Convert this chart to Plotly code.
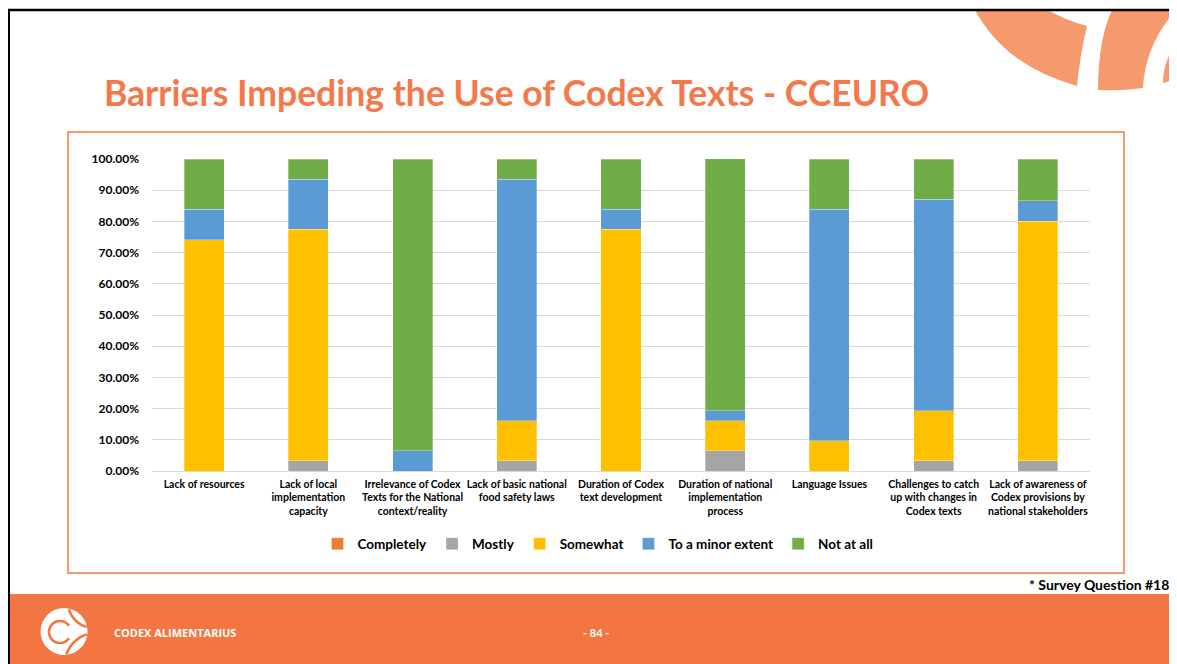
import math
import plotly.graph_objects as go

W, H = 1177, 664
OFF = 8  # page body margin of the browser

categories = [
    "Lack of resources",
    "Lack of local<br>implementation<br>capacity",
    "Irrelevance of Codex<br>Texts for the National<br>context/reality",
    "Lack of basic national<br>food safety laws",
    "Duration of Codex<br>text development",
    "Duration of national<br>implementation<br>process",
    "Language Issues",
    "Challenges to catch<br>up with changes in<br>Codex texts",
    "Lack of awareness of<br>Codex provisions by<br>national stakeholders",
]

completely = [0, 0, 0, 0, 0, 0, 0, 0, 0]
mostly = [0, 3.23, 0, 3.23, 0, 6.45, 0, 3.23, 3.33]
somewhat = [74.19, 74.19, 0, 12.90, 77.42, 9.68, 9.68, 16.13, 76.67]
minor_extent = [9.68, 16.13, 6.45, 77.42, 6.45, 3.23, 74.19, 67.74, 6.67]
not_at_all = [16.13, 6.45, 93.55, 6.45, 16.13, 80.65, 16.13, 12.90, 13.33]

series_names = ["Completely", "Mostly", "Somewhat", "To a minor extent", "Not at all"]
series_values = [completely, mostly, somewhat, minor_extent, not_at_all]
series_colors = ["#ED7D31", "#A5A5A5", "#FFC000", "#5B9BD5", "#70AD47"]

ORANGE = "#F4794A"
FOOT = "#F37542"
DECO = "#F69A6E"
FONT = "Lato"


def X(px):
    return (px - OFF) / W


def Y(py):
    return 1 - (py - OFF) / H


def path(points_cmds, close=True):
    out = []
    for cmd, pts in points_cmds:
        for (px, py) in pts:
            out.append(f"{cmd} {X(px):.5f},{Y(py):.5f}")
    return " ".join(out) + (" Z" if close else "")


def arc_in_circle(cx, cy, r, a0, a1, lc=(64, 631.5), lr=23.5, n=40):
    pts = []
    for i in range(n + 1):
        a = math.radians(a0 + (a1 - a0) * i / n)
        px, py = cx + r * math.cos(a), cy + r * math.sin(a)
        if (px - lc[0]) ** 2 + (py - lc[1]) ** 2 <= lr ** 2:
            pts.append((px, py))
    if len(pts) < 2:
        return None
    return path([("M", [pts[0]]), ("L", pts[1:])], close=False)


def qpath(start, segs, close=True):
    s = f"M {X(start[0]):.5f},{Y(start[1]):.5f}"
    for cmd, pts in segs:
        s += " " + cmd + " " + " ".join(f"{X(a):.5f},{Y(b):.5f}" for a, b in pts)
    return s + (" Z" if close else "")


fig = go.Figure()
for name, vals, col in zip(series_names, series_values, series_colors):
    fig.add_trace(go.Bar(
        x=categories, y=vals, name=name,
        marker=dict(color=col, line=dict(width=0.5, color="rgba(255,255,255,0.6)")),
        hovertemplate="%{y:.2f}%<extra>" + name + "</extra>",
    ))

shapes = []
# top-right decoration
shapes.append(dict(type="path", xref="paper", yref="paper", fillcolor=DECO, line=dict(width=0),
                   path=qpath((975, 10), [("Q", [(1005, 66), (1077, 86)]),
                                          ("Q", [(1080, 55), (1087, 26)]),
                                          ("Q", [(1065, 20), (1048, 10)])])))
shapes.append(dict(type="path", xref="paper", yref="paper", fillcolor=DECO, line=dict(width=0),
                   path=qpath((1098, 90), [("Q", [(1098, 40), (1112, 10)]),
                                           ("L", [(1176, 10)]),
                                           ("Q", [(1145, 45), (1143, 88)]),
                                           ("Q", [(1120, 91), (1098, 90)])])))
shapes.append(dict(type="path", xref="paper", yref="paper", fillcolor=DECO, line=dict(width=0),
                   path=qpath((1163, 83), [("Q", [(1163, 58), (1180, 40)]),
                                           ("L", [(1180, 78)])])))
# black slide border
shapes.append(dict(type="line", xref="paper", yref="paper", x0=X(7), x1=X(1185), y0=Y(10), y1=Y(10),
                   line=dict(color="black", width=2.5)))
shapes.append(dict(type="line", xref="paper", yref="paper", x0=X(9), x1=X(9), y0=Y(9), y1=Y(672),
                   line=dict(color="black", width=2)))
# chart frame
shapes.append(dict(type="rect", xref="paper", yref="paper", x0=X(68), x1=X(1124), y0=Y(132), y1=Y(573),
                   line=dict(color=ORANGE, width=1.5), fillcolor="rgba(0,0,0,0)", layer="below"))
# footer band
shapes.append(dict(type="rect", xref="paper", yref="paper", x0=X(10), x1=X(1185), y0=Y(594), y1=Y(672),
                   line=dict(width=0), fillcolor=FOOT))
# footer logo
shapes.append(dict(type="circle", xref="paper", yref="paper", x0=X(40.5), x1=X(87.5), y0=Y(608), y1=Y(655),
                   line=dict(width=0), fillcolor="white"))
logo_arcs = [
    (60, 632, 11, 35, 325),
    (94, 602, 17, 90, 200),
    (94, 602, 26, 90, 200),
    (96, 664, 22, 180, 280),
    (96, 664, 31, 180, 280),
]
for cx, cy, r, a0, a1 in logo_arcs:
    p = arc_in_circle(cx, cy, r, a0, a1)
    if p:
        shapes.append(dict(type="path", xref="paper", yref="paper", path=p,
                           line=dict(color=FOOT, width=2.6), fillcolor="rgba(0,0,0,0)"))

annotations = [
    dict(text="<b>Barriers Impeding the Use of Codex Texts - CCEURO</b>", x=X(102), y=Y(92),
         xref="paper", yref="paper", xanchor="left", yanchor="middle", showarrow=False,
         font=dict(family=FONT, size=35.5, color=ORANGE)),
    dict(text="<b>* Survey Question #18</b>", x=X(1171), y=Y(584), xref="paper", yref="paper",
         xanchor="right", yanchor="middle", showarrow=False, font=dict(family=FONT, size=14, color="black")),
    dict(text="<b>CODEX ALIMENTARIUS</b>", x=X(112), y=Y(632), xref="paper", yref="paper",
         xanchor="left", yanchor="middle", showarrow=False,
         font=dict(family="Open Sans", size=11, color="white")),
    dict(text="<b>- 84 -</b>", x=X(596), y=Y(632), xref="paper", yref="paper",
         xanchor="center", yanchor="middle", showarrow=False, font=dict(family=FONT, size=11, color="white")),
]

fig.update_layout(
    width=W, height=H,
    autosize=False,
    margin=dict(l=0, r=0, t=0, b=0, pad=0, autoexpand=False),
    paper_bgcolor="white", plot_bgcolor="white",
    barmode="stack", bargap=0.616,
    font=dict(family=FONT, color="black"),
    showlegend=True,
    legend=dict(orientation="h", x=X(598), xanchor="center", y=Y(544), yanchor="middle",
                traceorder="normal", font=dict(family=FONT, size=13.5, color="black", weight="bold"),
                bgcolor="rgba(0,0,0,0)", itemwidth=30, itemclick=False),
    xaxis=dict(domain=[X(152), X(1090)], showline=True, linecolor="#D9D9D9", linewidth=1,
               tickfont=dict(family=FONT, size=10.5, color="black", weight="bold"),
               ticks="", ticklabelstandoff=3, fixedrange=True, automargin=False),
    yaxis=dict(domain=[Y(471), Y(159)], range=[0, 100], dtick=10, tickformat=".2f", ticksuffix="%",
               showgrid=True, gridcolor="#D9D9D9", gridwidth=1, zeroline=False,
               tickfont=dict(family=FONT, size=12, color="black", weight="bold"),
               ticks="", ticklabelstandoff=12, fixedrange=True, automargin=False),
    shapes=shapes,
    annotations=annotations,
)

fig.write_html("out.html")
